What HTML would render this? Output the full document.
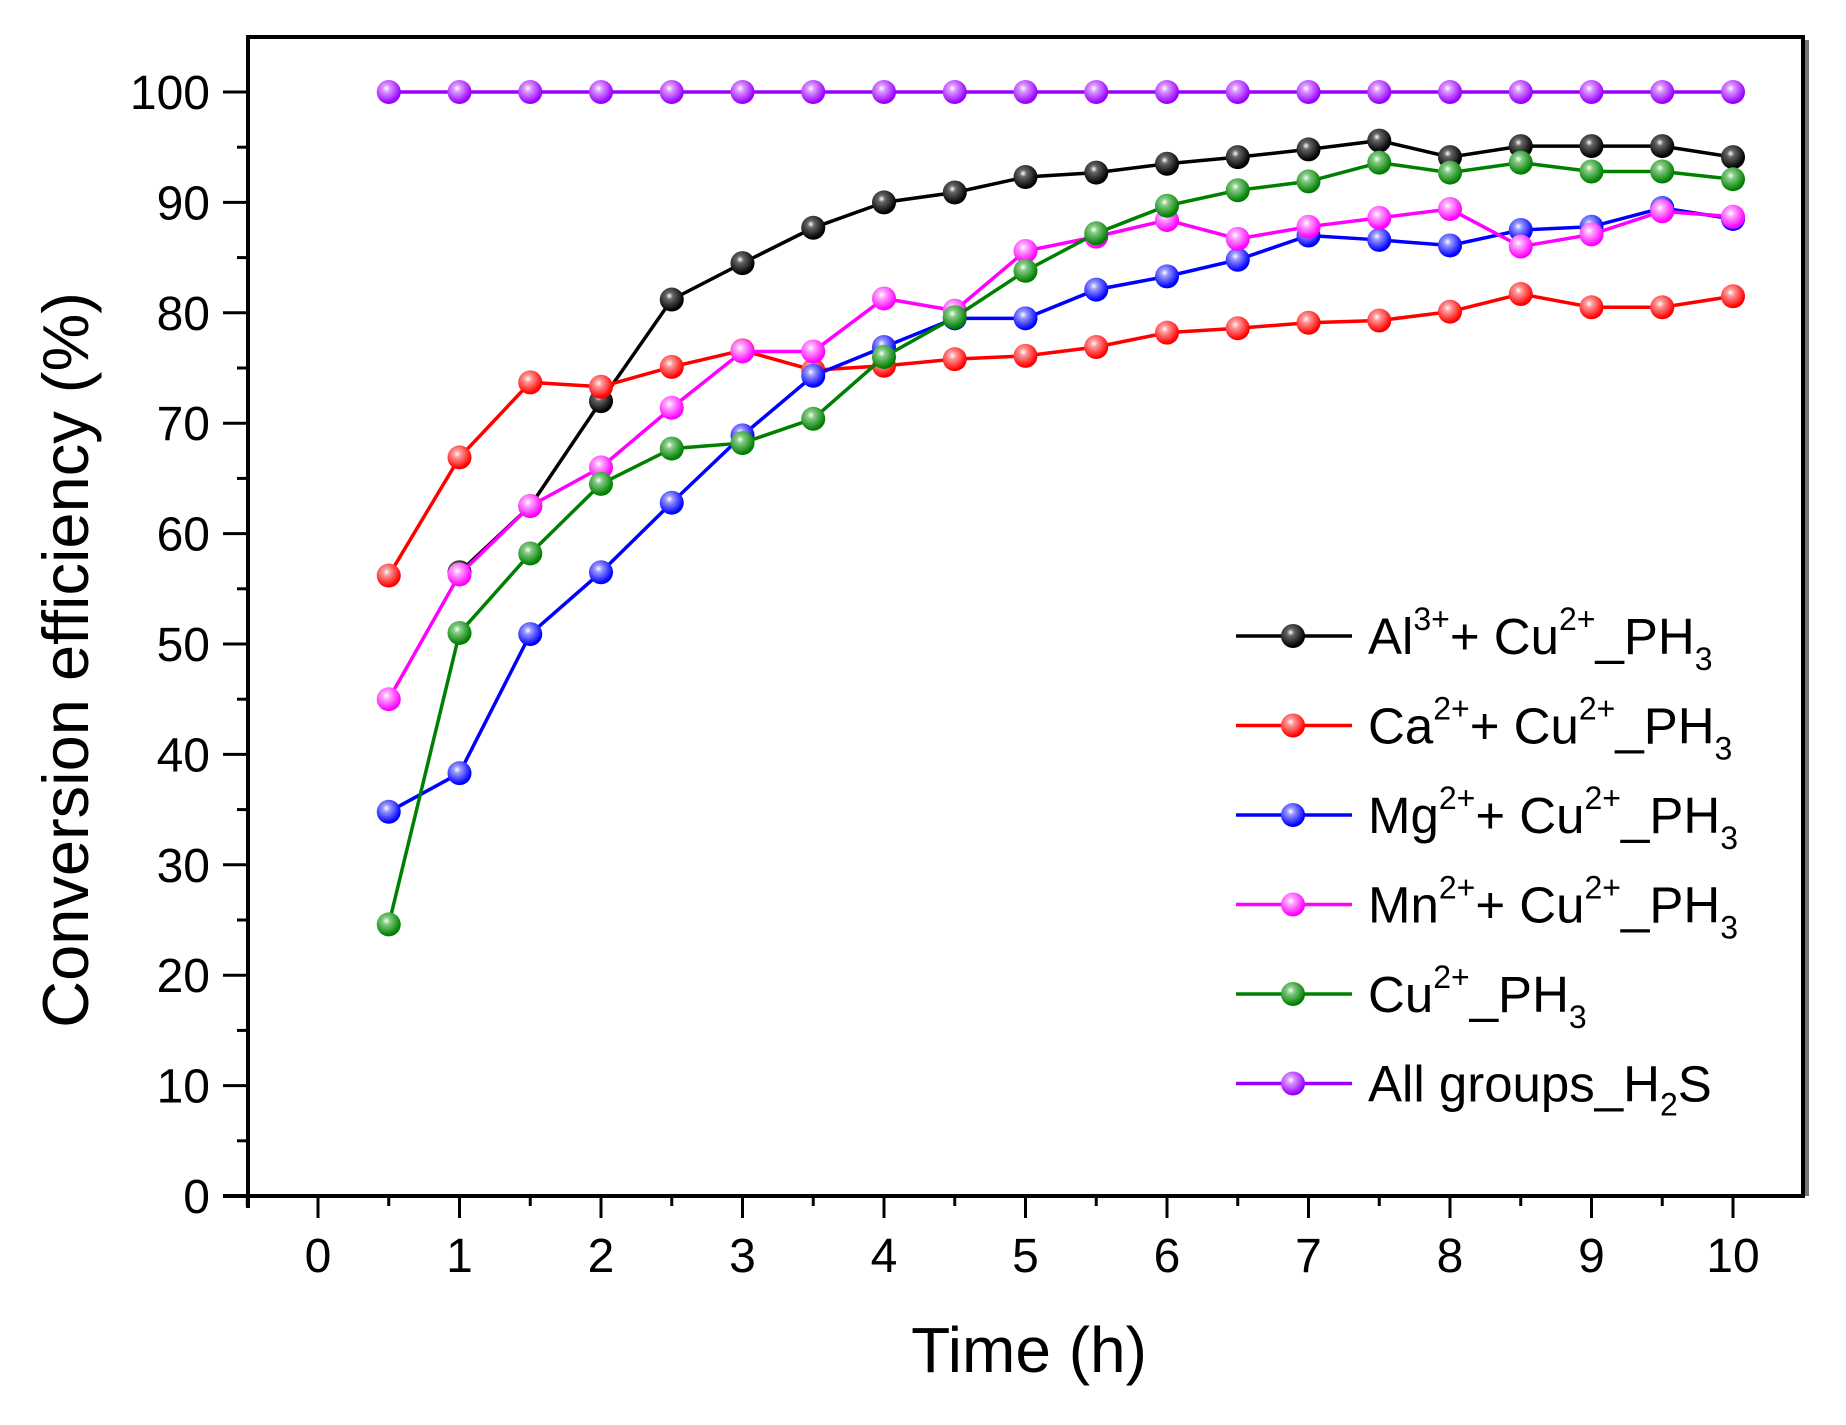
<!DOCTYPE html>
<html><head><meta charset="utf-8"><style>
body{margin:0;background:#fff;}
svg{display:block;font-family:"Liberation Sans",sans-serif;}
</style></head><body>
<svg id="chart" width="1846" height="1425" viewBox="0 0 1846 1425" xmlns="http://www.w3.org/2000/svg">
<defs></defs>
<rect x="0" y="0" width="1846" height="1425" fill="#fff"/>
<g id="axes"></g>
<g id="series"></g>
<g id="legend"></g>
</svg>
<script>
const xValues=[0.5,1,1.5,2,2.5,3,3.5,4,4.5,5,5.5,6,6.5,7,7.5,8,8.5,9,9.5,10];
const alCu=[null,56.5,62.5,72,81.2,84.5,87.7,90,90.9,92.3,92.7,93.5,94.1,94.8,95.6,94.1,95.1,95.1,95.1,94.1];
const caCu=[56.2,66.9,73.7,73.3,75.1,76.6,74.8,75.2,75.8,76.1,76.9,78.2,78.6,79.1,79.3,80.1,81.7,80.5,80.5,81.5];
const mgCu=[34.8,38.3,50.9,56.5,62.8,68.9,74.3,76.9,79.5,79.5,82.1,83.3,84.8,87.0,86.6,86.1,87.5,87.8,89.5,88.5];
const mnCu=[45.0,56.3,62.5,66.0,71.4,76.5,76.5,81.3,80.2,85.6,86.9,88.4,86.7,87.8,88.6,89.4,86.0,87.1,89.2,88.7];
const cuOnly=[24.6,51.0,58.2,64.5,67.7,68.2,70.4,76.0,79.6,83.8,87.2,89.7,91.1,91.9,93.6,92.7,93.6,92.8,92.8,92.1];
const allH2S=[100,100,100,100,100,100,100,100,100,100,100,100,100,100,100,100,100,100,100,100];
const xTickLabels=["0","1","2","3","4","5","6","7","8","9","10"];
const yTickLabels=["0","10","20","30","40","50","60","70","80","90","100"];

const NS="http://www.w3.org/2000/svg";
const L=248,R=1803,T=37,B=1196;
const X=v=>318+v*141.5;
const Y=v=>B-v*11.04;
function el(tag,attrs,parent){const e=document.createElementNS(NS,tag);for(const k in attrs)e.setAttribute(k,attrs[k]);parent.appendChild(e);return e;}
const svg=document.getElementById('chart');
const defs=svg.querySelector('defs');
const axes=document.getElementById('axes');
const colors=[["#000000","#666"],["#ff0000","#ff9999"],["#0000ff","#9999ff"],["#ff00ff","#ffaaff"],["#008000","#88cc88"],["#9900ff","#dd99ff"]];
colors.forEach((c,i)=>{
  const g=el('radialGradient',{id:'g'+i,cx:'0.4',cy:'0.35',r:'0.6'},defs);
  el('stop',{offset:'0','stop-color':'#fff'},g);
  el('stop',{offset:'0.25','stop-color':c[1]},g);
  el('stop',{offset:'1','stop-color':c[0]},g);
});
let s=el('line',{x1:R+4,y1:T+3,x2:R+4,y2:B,stroke:'#777','stroke-width':4},axes);


let f=el('path',{d:`M${L} ${T}H${R}V${B}`,fill:'none',stroke:'#000','stroke-width':4},axes);


let xa=el('line',{x1:223,y1:B,x2:R+2,y2:B,stroke:'#000','stroke-width':4},axes);


let ya=el('line',{x1:L,y1:T-2,x2:L,y2:1208,stroke:'#000','stroke-width':4},axes);


for(let i=-1;i<=21;i++){
  const v=i/2;const x=X(v);if(x<L-30||x>R)continue;
  const major=i%2===0;
  const t=el('line',{x1:x,y1:B,x2:x,y2:B+(major?22:10),stroke:'#000','stroke-width':3},axes);
  
  
}
xTickLabels.forEach((lab,i)=>{
  const t=el('text',{x:X(i),y:1272,'font-size':48,'text-anchor':'middle',fill:'#000'},axes);
  t.textContent=lab;
  
  
});
for(let i=0;i<=20;i++){
  const y=Y(i*5);const major=i%2===0;
  const t=el('line',{x1:L,y1:y,x2:L-(major?25:11),y2:y,stroke:'#000','stroke-width':3},axes);
  
  
}
yTickLabels.forEach((lab,i)=>{
  const t=el('text',{x:210,y:Y(i*10)+17,'font-size':48,'text-anchor':'end',fill:'#000'},axes);
  t.textContent=lab;
  
  
});
let xt=el('text',{x:1029,y:1372,'font-size':64,'text-anchor':'middle',fill:'#000'},axes);
xt.textContent='Time (h)';


let yt=el('text',{x:0,y:0,'font-size':65,'text-anchor':'middle',fill:'#000',transform:'translate(88,660) rotate(-90)'},axes);
yt.textContent='Conversion efficiency (%)';



const seriesList=[
 {name:'all-groups-h2s',data:allH2S,ci:5},
 {name:'al-cu-ph3',data:alCu,ci:0},
 {name:'ca-cu-ph3',data:caCu,ci:1},
 {name:'mg-cu-ph3',data:mgCu,ci:2},
 {name:'mn-cu-ph3',data:mnCu,ci:3},
 {name:'cu-ph3',data:cuOnly,ci:4}
];
const sg=document.getElementById('series');
seriesList.forEach(sr=>{
  const g=el('g',{},sg);
  
  
  let d='';let first=true;
  sr.data.forEach((v,i)=>{if(v==null)return;d+=(first?'M':'L')+X(xValues[i])+' '+Y(v);first=false;});
  const p=el('path',{d:d,fill:'none',stroke:colors[sr.ci][0],'stroke-width':3.5},g);
  
  
  sr.data.forEach((v,i)=>{if(v==null)return;
    const c=el('circle',{cx:X(xValues[i]),cy:Y(v),r:12,fill:`url(#g${sr.ci})`},g);
    
    
  });
});
const lg=document.getElementById('legend');


const legendItems=[
 {ci:0,html:['Al','3+','+ Cu','2+','_PH','3']},
 {ci:1,html:['Ca','2+','+ Cu','2+','_PH','3']},
 {ci:2,html:['Mg','2+','+ Cu','2+','_PH','3']},
 {ci:3,html:['Mn','2+','+ Cu','2+','_PH','3']},
 {ci:4,html:['Cu','2+','_PH','3']},
 {ci:5,html:['All groups_H','2','S']}
];
legendItems.forEach((it,k)=>{
  const y=636+k*89.5;
  const g=el('g',{},lg);
  
  
  el('line',{x1:1236,y1:y,x2:1352,y2:y,stroke:colors[it.ci][0],'stroke-width':3.5},g);
  el('circle',{cx:1293,cy:y,r:12,fill:`url(#g${it.ci})`},g);
  const t=el('text',{x:1368,y:y+18,'font-size':51,fill:'#000'},g);
  const parts=it.html;
  if(it.ci===5){
    const a=el('tspan',{},t);a.textContent=parts[0];
    const b=el('tspan',{'font-size':32,dy:14},t);b.textContent=parts[1];
    const c=el('tspan',{dy:-14},t);c.textContent=parts[2];
  } else {
    for(let j=0;j<parts.length;j++){
      let ts;
      if(j===parts.length-1){ts=el('tspan',{'font-size':32,dy:16},t);}
      else if(j%2===1){ts=el('tspan',{'font-size':32,dy:-24},t);}
      else if(j>0){ts=el('tspan',{dy:24},t);}
      else ts=el('tspan',{},t);
      ts.textContent=parts[j];
    }
  }
});
</script>
</body></html>
